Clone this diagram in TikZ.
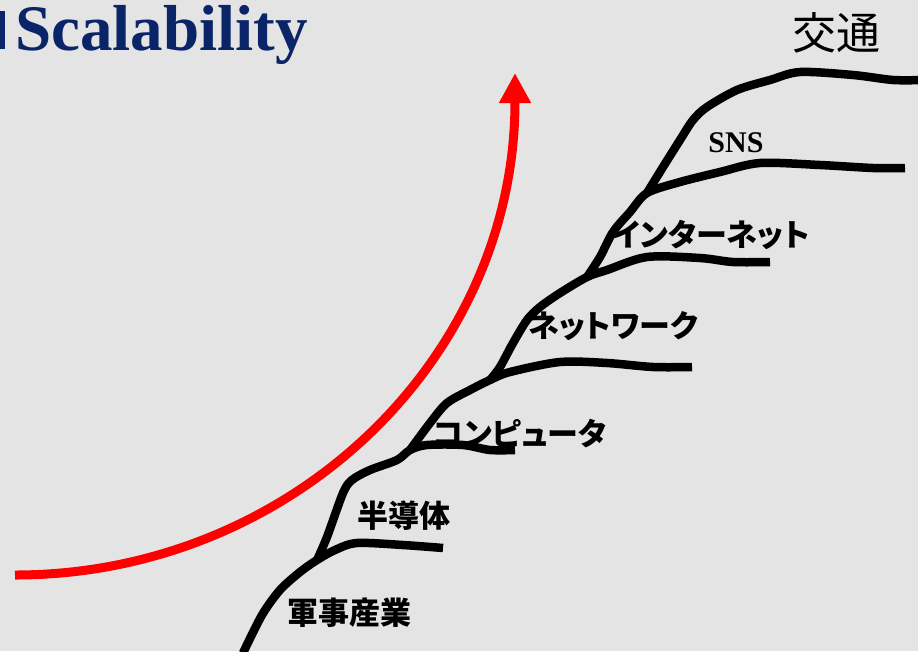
\documentclass[tikz,border=0pt]{standalone}
\usepackage{fontspec}
\usepackage{tikz}
\usetikzlibrary{arrows.meta}
\newfontfamily\jpfont[RawFeature=+palt]{Noto Sans CJK JP}
\newfontfamily\titlefont{Liberation Serif}
\definecolor{bggray}{RGB}{228,228,228}
\definecolor{navy}{RGB}{10,36,104}

\begin{document}
\begin{tikzpicture}[x=1pt, y=-1pt,
  curve/.style={line width=8.5pt, line join=round, black},
  label/.style={font=\jpfont\bfseries\fontsize{31}{31}\selectfont, inner sep=0pt}]
			\fill[bggray] (0,0) rectangle (918,651);
			\useasboundingbox (0,0) rectangle (918,651);
			\fill[navy] (0,11) rectangle (5,49);
			\node[anchor=base west, inner sep=0pt, text=navy, font=\titlefont\bfseries\fontsize{65}{65}\selectfont] (title) at (15,50) {Scalability};
			\node[inner sep=0pt, font=\jpfont\fontsize{44}{44}\selectfont] (kotsu) at (836,33) {交通};

			\coordinate (j0) at (243,653);
			\coordinate (j1) at (317,560);
			\coordinate (j2) at (410,450);
			\coordinate (j3) at (490,380);
			\coordinate (j4) at (587,277);
			\coordinate (j5) at (647,193);

			\draw[curve] plot[smooth, tension=0.5] coordinates {(j0) (262,615) (280,590) (300,572) (j1) (335,550) (357,543) (403,545) (443,548)};
			\draw[curve] plot[smooth, tension=0.5] coordinates {(j1) (327,537) (343,493) (352,480) (370,470) (397,460) (j2) (427,445) (463,445) (490,450) (515,450)};
			\draw[curve] plot[smooth, tension=0.5] coordinates {(j2) (430,423) (447,403) (470,390) (j3) (510,372) (560,362) (607,363) (653,367) (692,367)};
			\draw[curve] plot[smooth, tension=0.5] coordinates {(j3) (500,367) (513,343) (527,320) (540,307) (560,293) (j4) (607,270) (647,257) (700,258) (733,262) (770,262)};
			\draw[curve] plot[smooth, tension=0.5] coordinates {(j4) (600,257) (613,232) (630,212) (j5) (680,182) (720,172) (760,163) (820,165) (873,168) (905,168)};
			\draw[curve] plot[smooth, tension=0.5] coordinates {(j5) (663,167) (680,140) (693,120) (707,107) (737,90) (770,80) (800,72) (853,75) (893,80) (922,80)};

			\coordinate (rstart) at (15,575);
			\coordinate (rend) at (515,73);
			\draw[red, line width=9pt, -{Triangle[length=30pt, width=30pt]}] (rstart) .. controls (290,575) and (515,360) .. (rend);

			\node[inner sep=0pt, font=\titlefont\bfseries\fontsize{30}{30}\selectfont] (sns) at (736,143) {SNS};
			\node[label] (internet) at (711,235) {インターネット};
			\node[label] (network) at (613,326) {ネットワーク};
			\node[label] (computer) at (520,434) {コンピュータ};
			\node[label] (handotai) at (404,516) {半導体};
			\node[label] (gunji) at (349,613) {軍事産業};
		\end{tikzpicture}
\end{document}
